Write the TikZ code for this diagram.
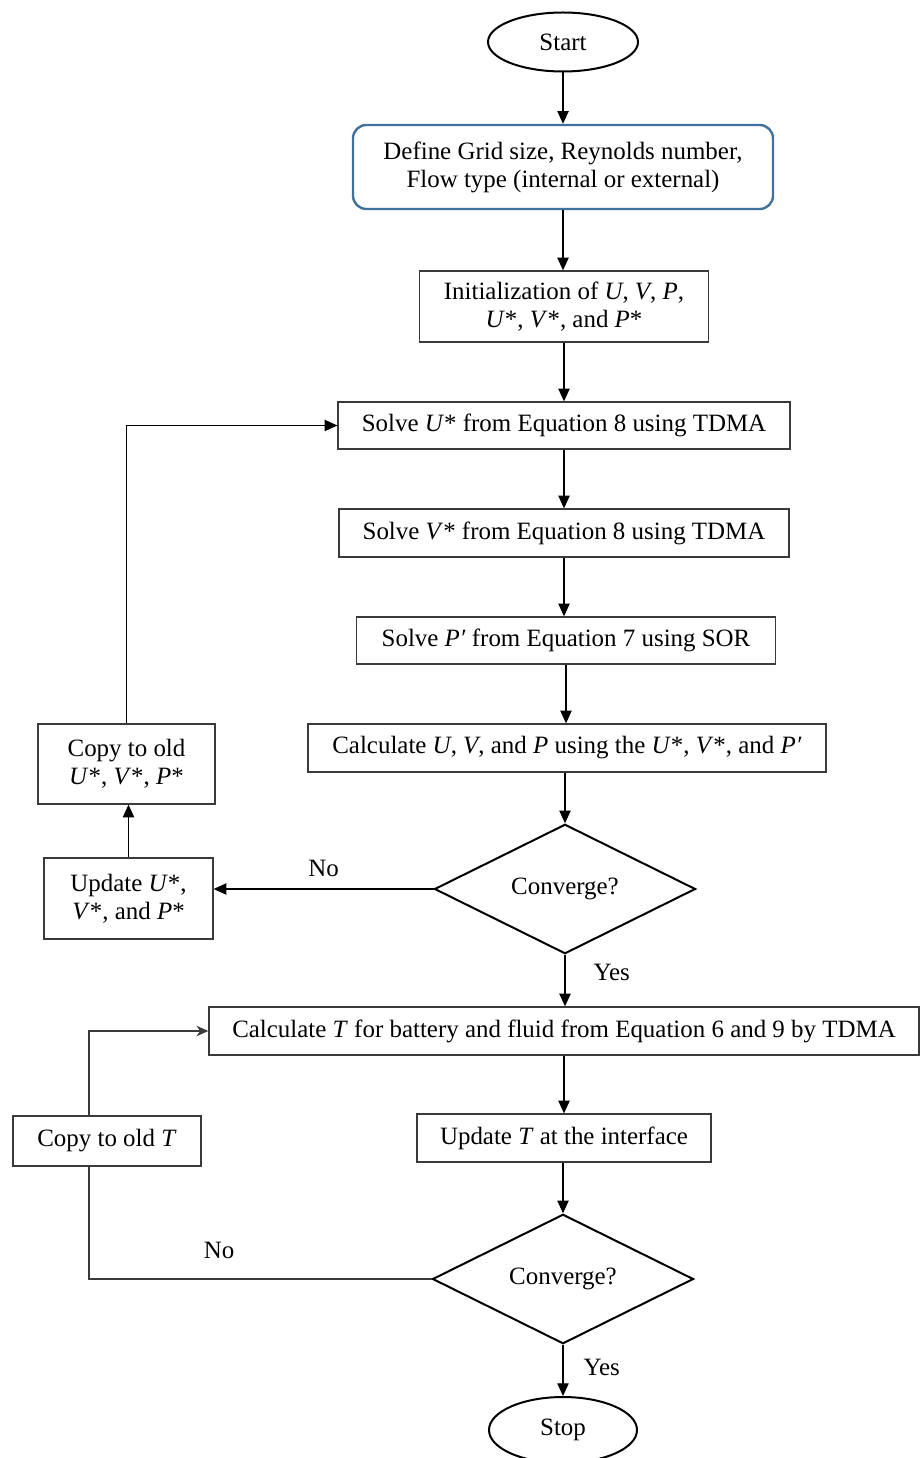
\documentclass[tikz,border=0pt]{standalone}
\usepackage{fontspec}
\setmainfont{Liberation Serif}
\usetikzlibrary{shapes.geometric,arrows.meta,calc}

\definecolor{boxblue}{HTML}{41719C}
\definecolor{boxline}{HTML}{3A3A3A}

\begin{document}
\begin{tikzpicture}[
  x=0.75pt, y=-0.75pt,
  every node/.style={font=\fontsize{18.7}{21}\selectfont, align=center, inner sep=0pt},
  terminal/.style={ellipse, draw=black, line width=1.5pt},
  setupbox/.style={rectangle, rounded corners=10pt, draw=boxblue, line width=1.8pt},
  procbox/.style={rectangle, draw=boxline, line width=1pt},
  decision/.style={diamond, draw=black, line width=1.5pt},
  flow/.style={draw=black, line width=0.8pt, -{Triangle[length=9.5pt,width=8.5pt]}},
  backflow/.style={draw=boxline, line width=0.9pt, -{Stealth[length=9pt,width=8pt]}},
  plainline/.style={draw=boxline, line width=0.9pt},
  lbl/.style={inner sep=1pt}
]
\useasboundingbox (0,0) rectangle (920,1458);

% ---- main column ----
\node[terminal, minimum width={150*0.75pt}, minimum height={59*0.75pt}] (start) at (563,42) {Start};
\node[setupbox, minimum width={420*0.75pt}, minimum height={84*0.75pt}] (define) at (563,167)
  {Define Grid size, Reynolds number,\\Flow type (internal or external)};
\node[procbox, minimum width={289*0.75pt}, minimum height={71*0.75pt}] (init) at (564,306.5)
  {Initialization of \textit{U}, \textit{V}, \textit{P},\\\textit{U}*, \textit{V}*, and \textit{P}*};
\node[procbox, minimum width={452*0.75pt}, minimum height={47*0.75pt}] (solveu) at (564,425.5)
  {Solve \textit{U}* from Equation 8 using TDMA};
\node[procbox, minimum width={450*0.75pt}, minimum height={48*0.75pt}] (solvev) at (564,533)
  {Solve \textit{V}* from Equation 8 using TDMA};
\node[procbox, minimum width={419*0.75pt}, minimum height={47*0.75pt}] (solvep) at (566,640.5)
  {Solve \textit{P′} from Equation 7 using SOR};
\node[procbox, minimum width={518*0.75pt}, minimum height={48*0.75pt}] (calcuvp) at (567,748)
  {Calculate \textit{U}, \textit{V}, and \textit{P} using the \textit{U}*, \textit{V}*, and \textit{P′}};
\node[decision, minimum width={261*0.75pt}, minimum height={108*0.75pt}] (conv1) at (565,889) {Converge?};
\node[procbox, minimum width={710*0.75pt}, minimum height={48*0.75pt}] (calct) at (564,1031)
  {Calculate \textit{T} for battery and fluid from Equation 6 and 9 by TDMA};
\node[procbox, minimum width={294*0.75pt}, minimum height={48*0.75pt}] (updatet) at (564,1138)
  {Update \textit{T} at the interface};
\node[decision, minimum width={261*0.75pt}, minimum height={108*0.75pt}] (conv2) at (563,1279) {Converge?};
\node[terminal, minimum width={148*0.75pt}, minimum height={66*0.75pt}] (stop) at (563,1430) {Stop};

% ---- left column (loops) ----
\node[procbox, minimum width={177*0.75pt}, minimum height={80*0.75pt}] (copyuvp) at (126.5,764)
  {Copy to old\\\textit{U}*, \textit{V}*, \textit{P}*};
\node[procbox, minimum width={169*0.75pt}, minimum height={81*0.75pt}] (updateuvp) at (128.5,898.5)
  {Update \textit{U}*,\\\textit{V}*, and \textit{P}*};
\node[procbox, minimum width={188*0.75pt}, minimum height={50*0.75pt}] (copyt) at (107,1141)
  {Copy to old \textit{T}};

% ---- forward connectors ----
\draw[flow] (start.south) -- (start.south |- define.north);
\draw[flow] (define.south) -- (define.south |- init.north);
\draw[flow] (init.south) -- (init.south |- solveu.north);
\draw[flow] (solveu.south) -- (solveu.south |- solvev.north);
\draw[flow] (solvev.south) -- (solvev.south |- solvep.north);
\draw[flow] (solvep.south) -- (solvep.south |- calcuvp.north);
\draw[flow] (conv1.north |- calcuvp.south) -- (conv1.north);
\draw[flow] (conv1.south) -- (conv1.south |- calct.north)
  node[lbl, pos=0.35, right=20pt] {Yes};
\draw[flow] (calct.south) -- (calct.south |- updatet.north);
\draw[flow] (conv2.north |- updatet.south) -- (conv2.north);
\draw[flow] (conv2.south) -- (stop.north)
  node[lbl, pos=0.45, right=14pt] {Yes};

% ---- velocity / pressure loop ----
\draw[flow] (conv1.west) -- (conv1.west -| updateuvp.east)
  node[lbl, pos=0.5, above=8pt] {No};
\draw[flow] (updateuvp.north) -- (updateuvp.north |- copyuvp.south);
\draw[flow] (copyuvp.north) |- (solveu.west);

% ---- temperature loop ----
\draw[plainline] (conv2.west) -| ($(copyt.south)+(-18,0)$)
  node[lbl, pos=0.31, above=14pt] {No};
\draw[backflow] ($(copyt.north)+(-18,0)$) |- (calct.west);

\end{tikzpicture}
\end{document}
